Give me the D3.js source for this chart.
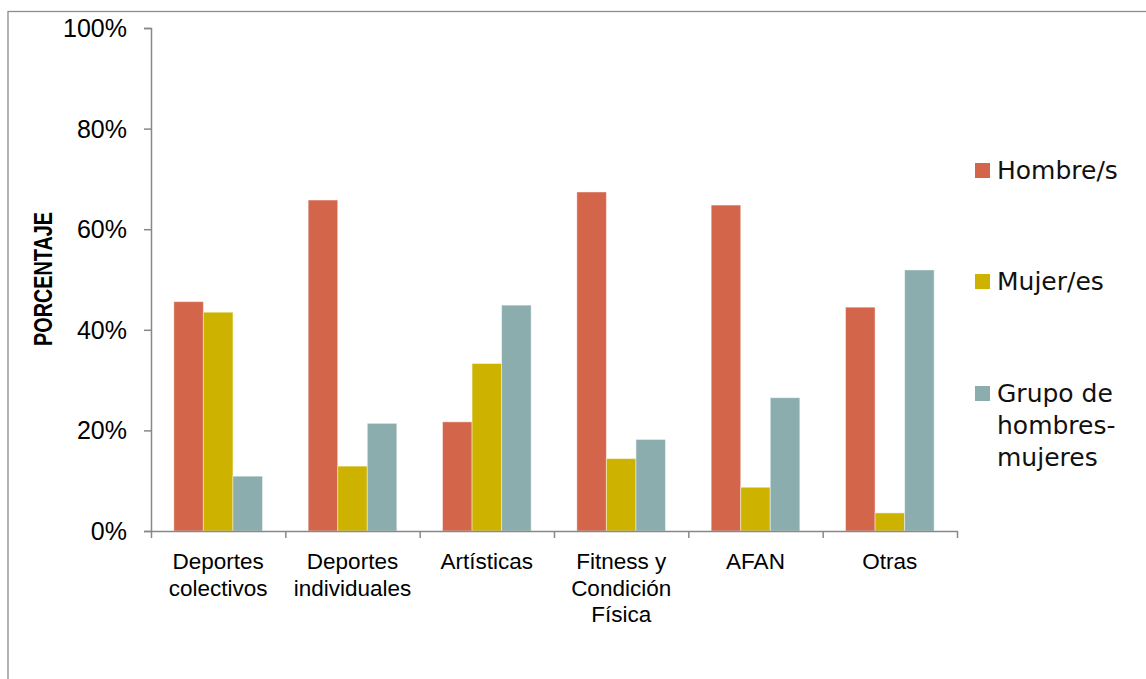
<!DOCTYPE html>
<html><head><meta charset="utf-8">
<script src="https://cdn.jsdelivr.net/npm/d3@7"></script>
<style>html,body{margin:0;padding:0;background:#fff;}svg{display:block;}</style>
</head><body>
<svg id="chart" width="1146" height="679"></svg>
<script>
const categories = [["Deportes","colectivos"],["Deportes","individuales"],["Artísticas"],["Fitness y","Condición","Física"],["AFAN"],["Otras"]];
const seriesNames = ["Hombre/s","Mujer/es","Grupo de hombres-mujeres"];
const legendLines = [["Hombre/s"],["Mujer/es"],["Grupo de","hombres-","mujeres"]];
const hombres = [45.6, 65.8, 21.7, 67.4, 64.8, 44.5];
const mujeres = [43.5, 12.9, 33.3, 14.4, 8.7, 3.6];
const grupo   = [10.9, 21.4, 44.9, 18.2, 26.5, 51.9];
const yTicks  = [0, 20, 40, 60, 80, 100];
const colors  = ["#D3654B", "#CDB300", "#8CADAD"];

const series = [hombres, mujeres, grupo];
const svg = d3.select("#chart");

// outer frame
svg.append("rect").attr("x",8).attr("y",11.5).attr("width",1150).attr("height",700)
  .attr("fill","none").attr("stroke","#8c8c8c").attr("stroke-width",1.3);

const x0 = d3.scaleBand().domain(d3.range(categories.length)).range([151,957]).paddingInner(0.34).paddingOuter(0.17);
const x1 = d3.scaleBand().domain(d3.range(series.length)).range([0, x0.bandwidth()]);
const y = d3.scaleLinear().domain([0,100]).range([531,28]);

// bars
series.forEach((vals, si) => {
  svg.append("g").selectAll("rect").data(vals).join("rect")
    .attr("x", (d,i) => x0(i) + x1(si))
    .attr("y", d => y(d))
    .attr("width", x1.bandwidth())
    .attr("height", d => y(0) - y(d))
    .attr("fill", colors[si])
    .attr("stroke", "rgba(255,255,255,0.45)")
    .attr("stroke-width", 1);
});

// y axis
const yAxis = svg.append("g").attr("transform","translate(151,0)")
  .call(d3.axisLeft(y).tickValues(yTicks).tickFormat(d => d + "%").tickSize(7).tickPadding(17));
yAxis.select(".domain").attr("stroke","#888").attr("stroke-width",1.5);
yAxis.selectAll(".tick line").attr("stroke","#888").attr("stroke-width",1.5);
yAxis.selectAll(".tick text").attr("font-family","'Liberation Sans', Arial, sans-serif")
  .attr("font-size","25px").attr("fill","#000").attr("dy","0.34em");

// x axis
const xs = d3.scaleLinear().domain([0, categories.length]).range([151,957]);
const xAxis = svg.append("g").attr("transform","translate(0,531)")
  .call(d3.axisBottom(xs).tickValues(d3.range(categories.length+1)).tickFormat("").tickSize(7).tickSizeOuter(0));
xAxis.select(".domain").attr("stroke","#888").attr("stroke-width",1.5);
xAxis.selectAll(".tick line").attr("stroke","#888").attr("stroke-width",1.5);

// category labels
const cl = svg.append("g");
categories.forEach((lines, i) => {
  const t = cl.append("text")
    .attr("x", x0(i) + x0.bandwidth()/2)
    .attr("y", 569)
    .attr("text-anchor","middle")
    .attr("font-family","'Liberation Sans', Arial, sans-serif")
    .attr("font-size","22.5px").attr("fill","#000");
  lines.forEach((ln, j) => t.append("tspan").attr("x", x0(i) + x0.bandwidth()/2).attr("y", 569 + j*26.7).text(ln));
});

// y title
svg.append("text")
  .attr("transform","translate(51.5,279) rotate(-90)")
  .attr("text-anchor","middle")
  .attr("font-family","'Liberation Sans', Arial, sans-serif")
  .attr("font-weight","bold").attr("font-size","25px").attr("fill","#000")
  .attr("textLength",134).attr("lengthAdjust","spacingAndGlyphs")
  .text("PORCENTAJE");

// legend
const lg = svg.append("g");
const legY = [170, 281, 393];
seriesNames.forEach((name, i) => {
  lg.append("rect").attr("x",975).attr("y",legY[i]-7).attr("width",15).attr("height",15).attr("fill",colors[i]);
  const t = lg.append("text").attr("x",997).attr("y",legY[i]+9)
    .attr("font-family","'DejaVu Sans', sans-serif").attr("font-size","25px").attr("fill","#111");
  legendLines[i].forEach((ln, j) => t.append("tspan").attr("x",997).attr("y",legY[i]+9 + j*32).text(ln));
});
</script>
</body></html>
